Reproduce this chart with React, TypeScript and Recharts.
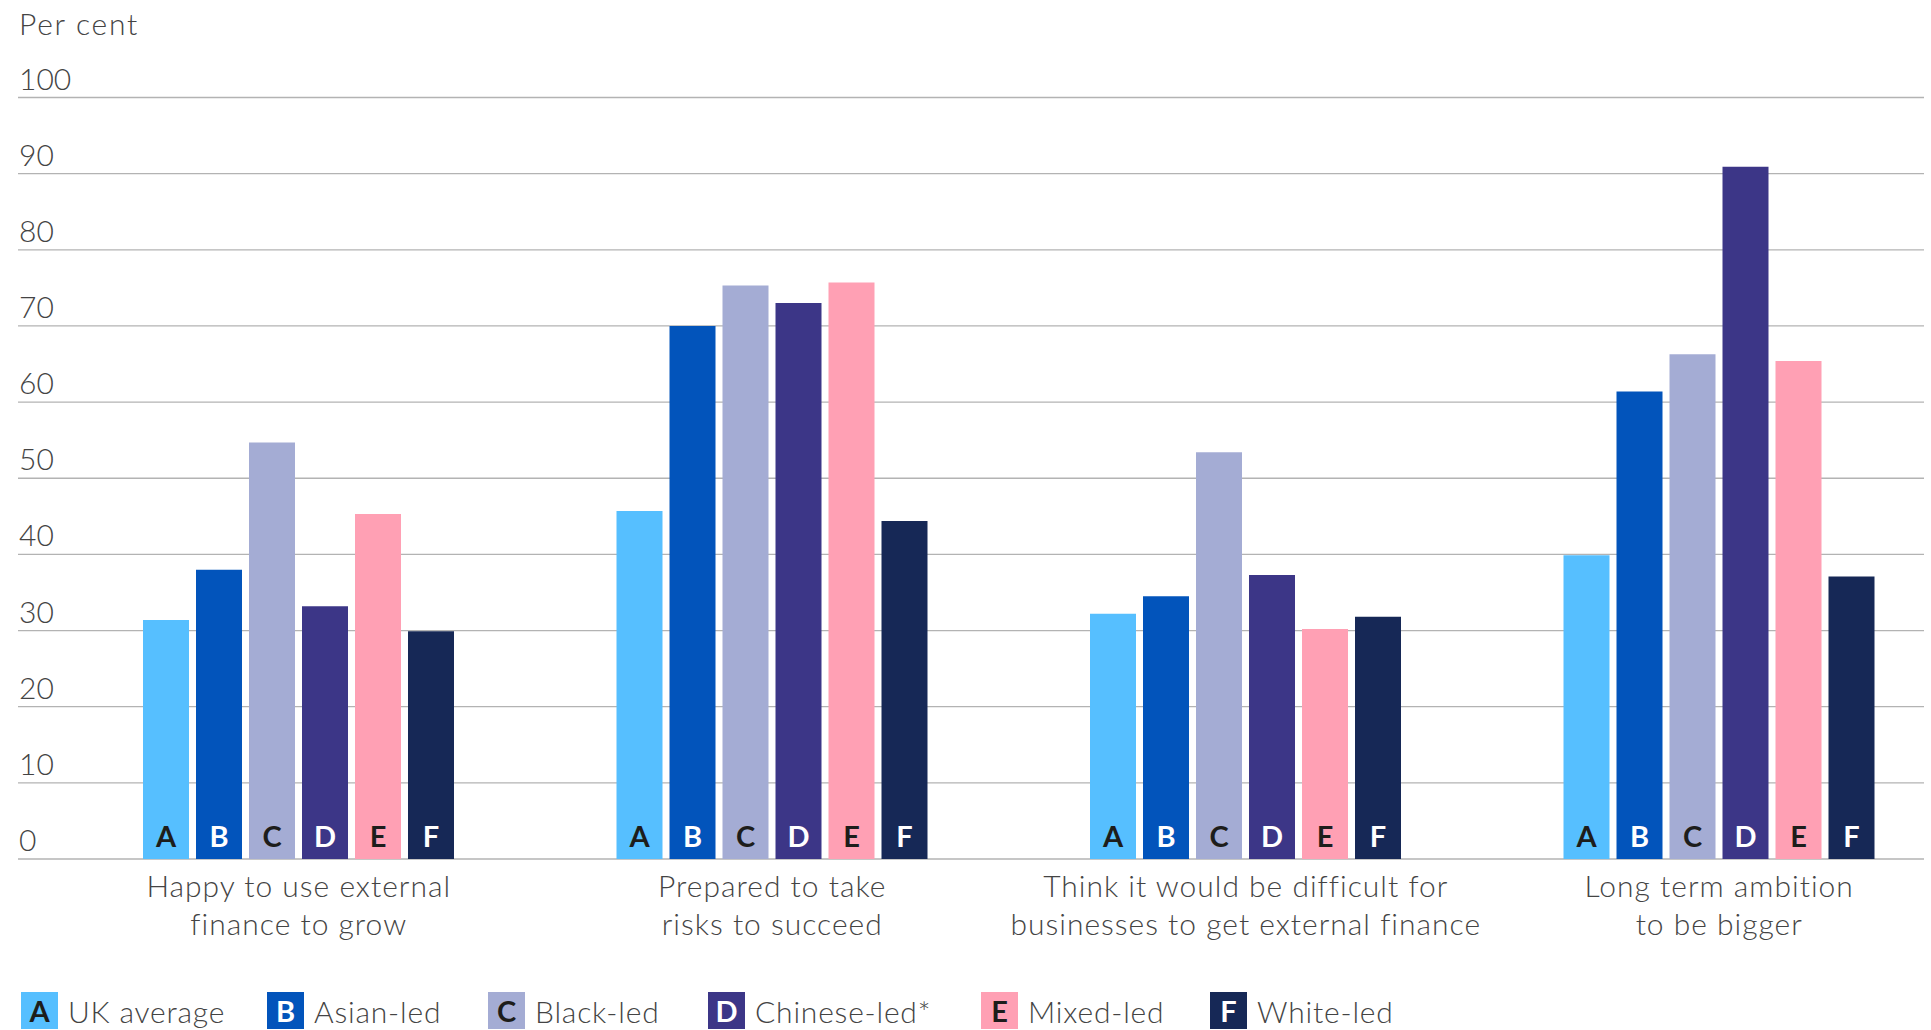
import { BarChart, Bar, XAxis, YAxis, CartesianGrid, LabelList } from 'recharts'

const CATEGORIES = [
  'Happy to use external\nfinance to grow',
  'Prepared to take\nrisks to succeed',
  'Think it would be difficult for\nbusinesses to get external finance',
  'Long term ambition\nto be bigger',
]

const SERIES_KEYS = ['uk', 'asian', 'black', 'chinese', 'mixed', 'white']
const SERIES_NAMES = ['UK average', 'Asian-led', 'Black-led', 'Chinese-led*', 'Mixed-led', 'White-led']
const SERIES_LETTERS = ['A', 'B', 'C', 'D', 'E', 'F']

const UK_AVERAGE = [31.4, 45.7, 32.2, 39.9]
const ASIAN_LED = [38.0, 70.0, 34.5, 61.4]
const BLACK_LED = [54.7, 75.3, 53.4, 66.3]
const CHINESE_LED = [33.2, 73.0, 37.3, 90.9]
const MIXED_LED = [45.3, 75.7, 30.2, 65.4]
const WHITE_LED = [29.9, 44.4, 31.8, 37.1]

const Y_TICKS = [0, 10, 20, 30, 40, 50, 60, 70, 80, 90, 100]

const SERIES_VALUES = [UK_AVERAGE, ASIAN_LED, BLACK_LED, CHINESE_LED, MIXED_LED, WHITE_LED]

const COLORS = ['#56bfff', '#0254bb', '#a4acd4', '#3c3687', '#ffa0b4', '#162856']
const LETTER_COLORS = ['#1d1d1b', '#ffffff', '#1d1d1b', '#ffffff', '#1d1d1b', '#ffffff']

// legend item x offsets (px), matched to the original layout
const LEGEND_LEFT = [21, 267, 488, 708, 981, 1210]

const FONT = 'Lato, "Open Sans", sans-serif'
const TEXT = '#444444'
const GRID = '#b3b3b3'

const chartData = CATEGORIES.map((c, i) => {
  const row: Record<string, string | number> = { category: c }
  SERIES_KEYS.forEach((k, s) => { row[k] = SERIES_VALUES[s][i] })
  return row
})

// eslint-disable-next-line @typescript-eslint/no-explicit-any
const YTick = ({ y, payload }: any) => (
  <text x={19} y={y - 8} fontSize={30} fontWeight={300} fill={TEXT} fontFamily={FONT} textAnchor="start">{payload.value}</text>
)

// eslint-disable-next-line @typescript-eslint/no-explicit-any
const XTick = ({ x, y, payload }: any) => {
  const lines = String(payload.value).split('\n')
  return (
    <text x={x} y={y} fontSize={30} fontWeight={300} letterSpacing={1} fill={TEXT} fontFamily={FONT} textAnchor="middle">
      {lines.map((l, i) => <tspan key={i} x={x} y={y + 38 + i * 38}>{l}</tspan>)}
    </text>
  )
}

const letterLabel = (s: number) => (p: any) => (
  <text
    x={p.x + p.width / 2}
    y={p.y + p.height - 12}
    textAnchor="middle"
    fontSize={29}
    fontWeight={700}
    fontFamily={FONT}
    fill={LETTER_COLORS[s]}
  >
    {SERIES_LETTERS[s]}
  </text>
)

export default function App() {
  return (
    <div style={{ position: 'absolute', left: 0, top: 0, width: 1931, height: 1030, background: '#fff', fontFamily: FONT }}>
      <div style={{ position: 'absolute', left: 19, top: 8, fontSize: 30, fontWeight: 300, letterSpacing: 1.7, lineHeight: '30px', color: TEXT }}>Per cent</div>
      <BarChart
        width={1931}
        height={1030}
        data={chartData}
        margin={{ top: 97.5, right: -25, bottom: 91, left: 18 }}
        barSize={46}
        barGap={7}
      >
        <CartesianGrid
          vertical={false}
          // eslint-disable-next-line @typescript-eslint/no-explicit-any
          horizontal={(p: any) => <line key={p.key} x1={18} x2={1924} y1={p.y1} y2={p.y1} stroke={GRID} strokeWidth={1.3} />}
        />
        <XAxis dataKey="category" interval={0} axisLine={false} tickLine={false} tickSize={0} tickMargin={0} height={80} tick={<XTick />} />
        <YAxis domain={[0, 100]} ticks={Y_TICKS} width={44} axisLine={false} tickLine={false} tick={<YTick />} />
        {SERIES_KEYS.map((k, s) => (
          <Bar key={k} dataKey={k} name={SERIES_NAMES[s]} fill={COLORS[s]} isAnimationActive={false}>
            <LabelList dataKey={k} content={letterLabel(s)} />
          </Bar>
        ))}
      </BarChart>
      {SERIES_NAMES.map((n, s) => (
        <div key={n} style={{ position: 'absolute', left: LEGEND_LEFT[s], top: 992, display: 'flex', alignItems: 'center', whiteSpace: 'nowrap' }}>
          <div style={{
            width: 37, height: 37, background: COLORS[s], color: LETTER_COLORS[s],
            fontWeight: 700, fontSize: 29, lineHeight: '37px', textAlign: 'center',
          }}>{SERIES_LETTERS[s]}</div>
          <span style={{ marginLeft: 10, fontSize: 30, fontWeight: 300, letterSpacing: 0.8, color: TEXT }}>{n}</span>
        </div>
      ))}
    </div>
  )
}
